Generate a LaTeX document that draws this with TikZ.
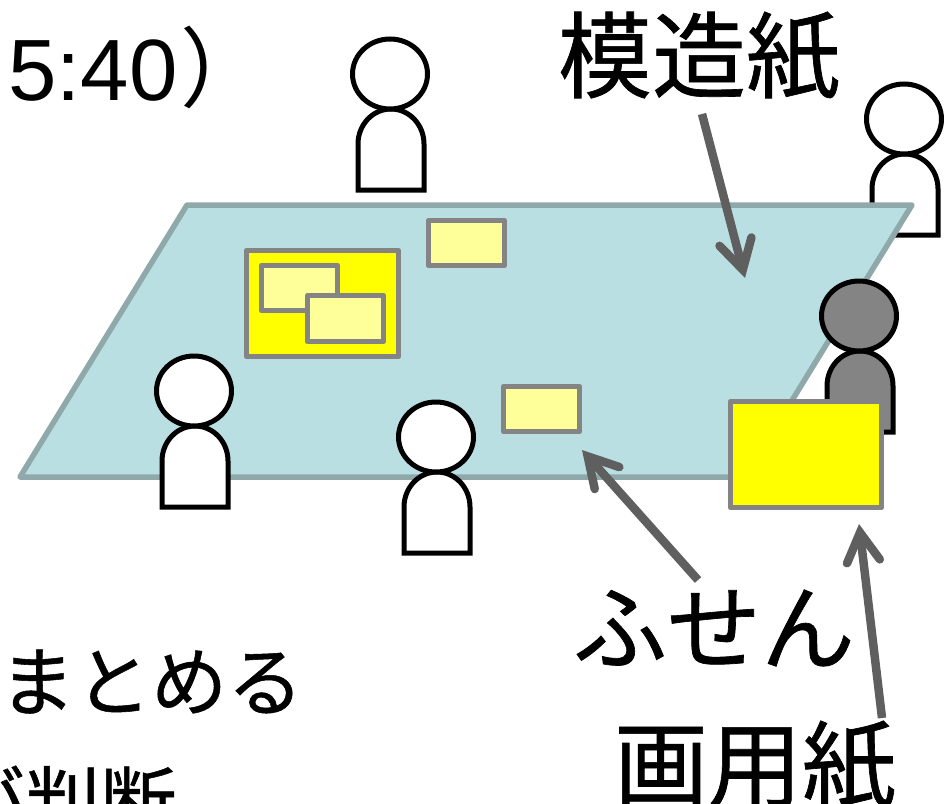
\documentclass[tikz,border=0pt]{standalone}
\usepackage{fontspec}
\setmainfont{Liberation Sans}
\newfontfamily\cjk[FakeBold=0.7]{Noto Sans CJK JP}
\newfontfamily\cjkthin{Noto Sans CJK JP}
\usetikzlibrary{arrows.meta}
\definecolor{paperfill}{HTML}{BADFE2}
\definecolor{paperline}{HTML}{8FA9AB}
\definecolor{arrowgray}{HTML}{5F5F5F}
\definecolor{boxline}{HTML}{848484}
\definecolor{pale}{HTML}{FFFF99}
\definecolor{pureyellow}{HTML}{FFFF00}
\tikzset{
  x=1pt,y=-1pt,
  paperbox/.style={draw=boxline,line width=5.5pt,fill=pureyellow,line join=round},
  notebox/.style={draw=boxline,line width=5.5pt,fill=pale,line join=round},
  pointer/.style={draw=arrowgray,line width=8.5pt,-{Straight Barb[length=29pt,width=33pt,line cap=round]}},
  biglabel/.style={inner sep=0pt,font=\cjk\fontsize{94}{94}\selectfont,text=black},
  sidelabel/.style={inner sep=0pt,anchor=base west,font=\cjk\fontsize{76}{76}\selectfont,text=black}
}
\newcommand{\person}[3]{%
  \draw[fill=#3,draw=black,line width=5pt] (#1-32,#2+116) -- (#1-32,#2+70) arc[start angle=180,end angle=0,x radius=33,y radius=-35] -- (#1+34,#2+116) -- cycle;
  \draw[fill=#3,draw=black,line width=5pt] (#1,#2) ellipse[x radius=37.5,y radius=35];
}
\begin{document}
\begin{tikzpicture}
\useasboundingbox (0,0) rectangle (944,803);
\clip (0,0) rectangle (944,803);
\person{390}{74}{white}
\person{904}{119}{white}
\draw[fill=paperfill,draw=paperline,line width=5.5pt,line join=round] (187,205) -- (912,205) -- (745,477) -- (20,477) -- cycle;
\person{194}{391}{white}
\person{436}{437}{white}
\person{859}{316}{boxline}
\draw[paperbox] (246.5,250.5) rectangle (398.5,356.5);
\draw[notebox] (261.5,265.5) rectangle (337.5,310.5);
\draw[notebox] (307.5,295.5) rectangle (383.5,341.5);
\draw[notebox] (428.5,220.5) rectangle (504.5,265.5);
\draw[notebox] (503.5,386.5) rectangle (579.5,431.5);
\draw[paperbox] (730.5,401.5) rectangle (881.5,507.5);
\node[biglabel] (mozoshi) at (699,56) {模造紙};
\node[biglabel] (fusen) at (714,628) {ふせん};
\node[biglabel] (gayoshi) at (755,765) {画用紙};
\node[inner sep=0pt,anchor=base west,font=\fontsize{87}{87}\selectfont] (time) at (8,100) {5:40\kern3pt{\cjkthin ）}};
\node[sidelabel] (matomeru) at (-1,710) {まとめる};
\node[sidelabel] (hantan) at (-52,830) {が判断};
\coordinate (s1) at (702,114);
\coordinate (t1) at (745,278);
\coordinate (s2) at (698,580);
\coordinate (t2) at (582,450);
\coordinate (s3) at (882,718);
\coordinate (t3) at (859,524);
\draw[pointer] (s1) -- (t1);
\draw[pointer] (s2) -- (t2);
\draw[pointer] (s3) -- (t3);
\end{tikzpicture}
\end{document}
